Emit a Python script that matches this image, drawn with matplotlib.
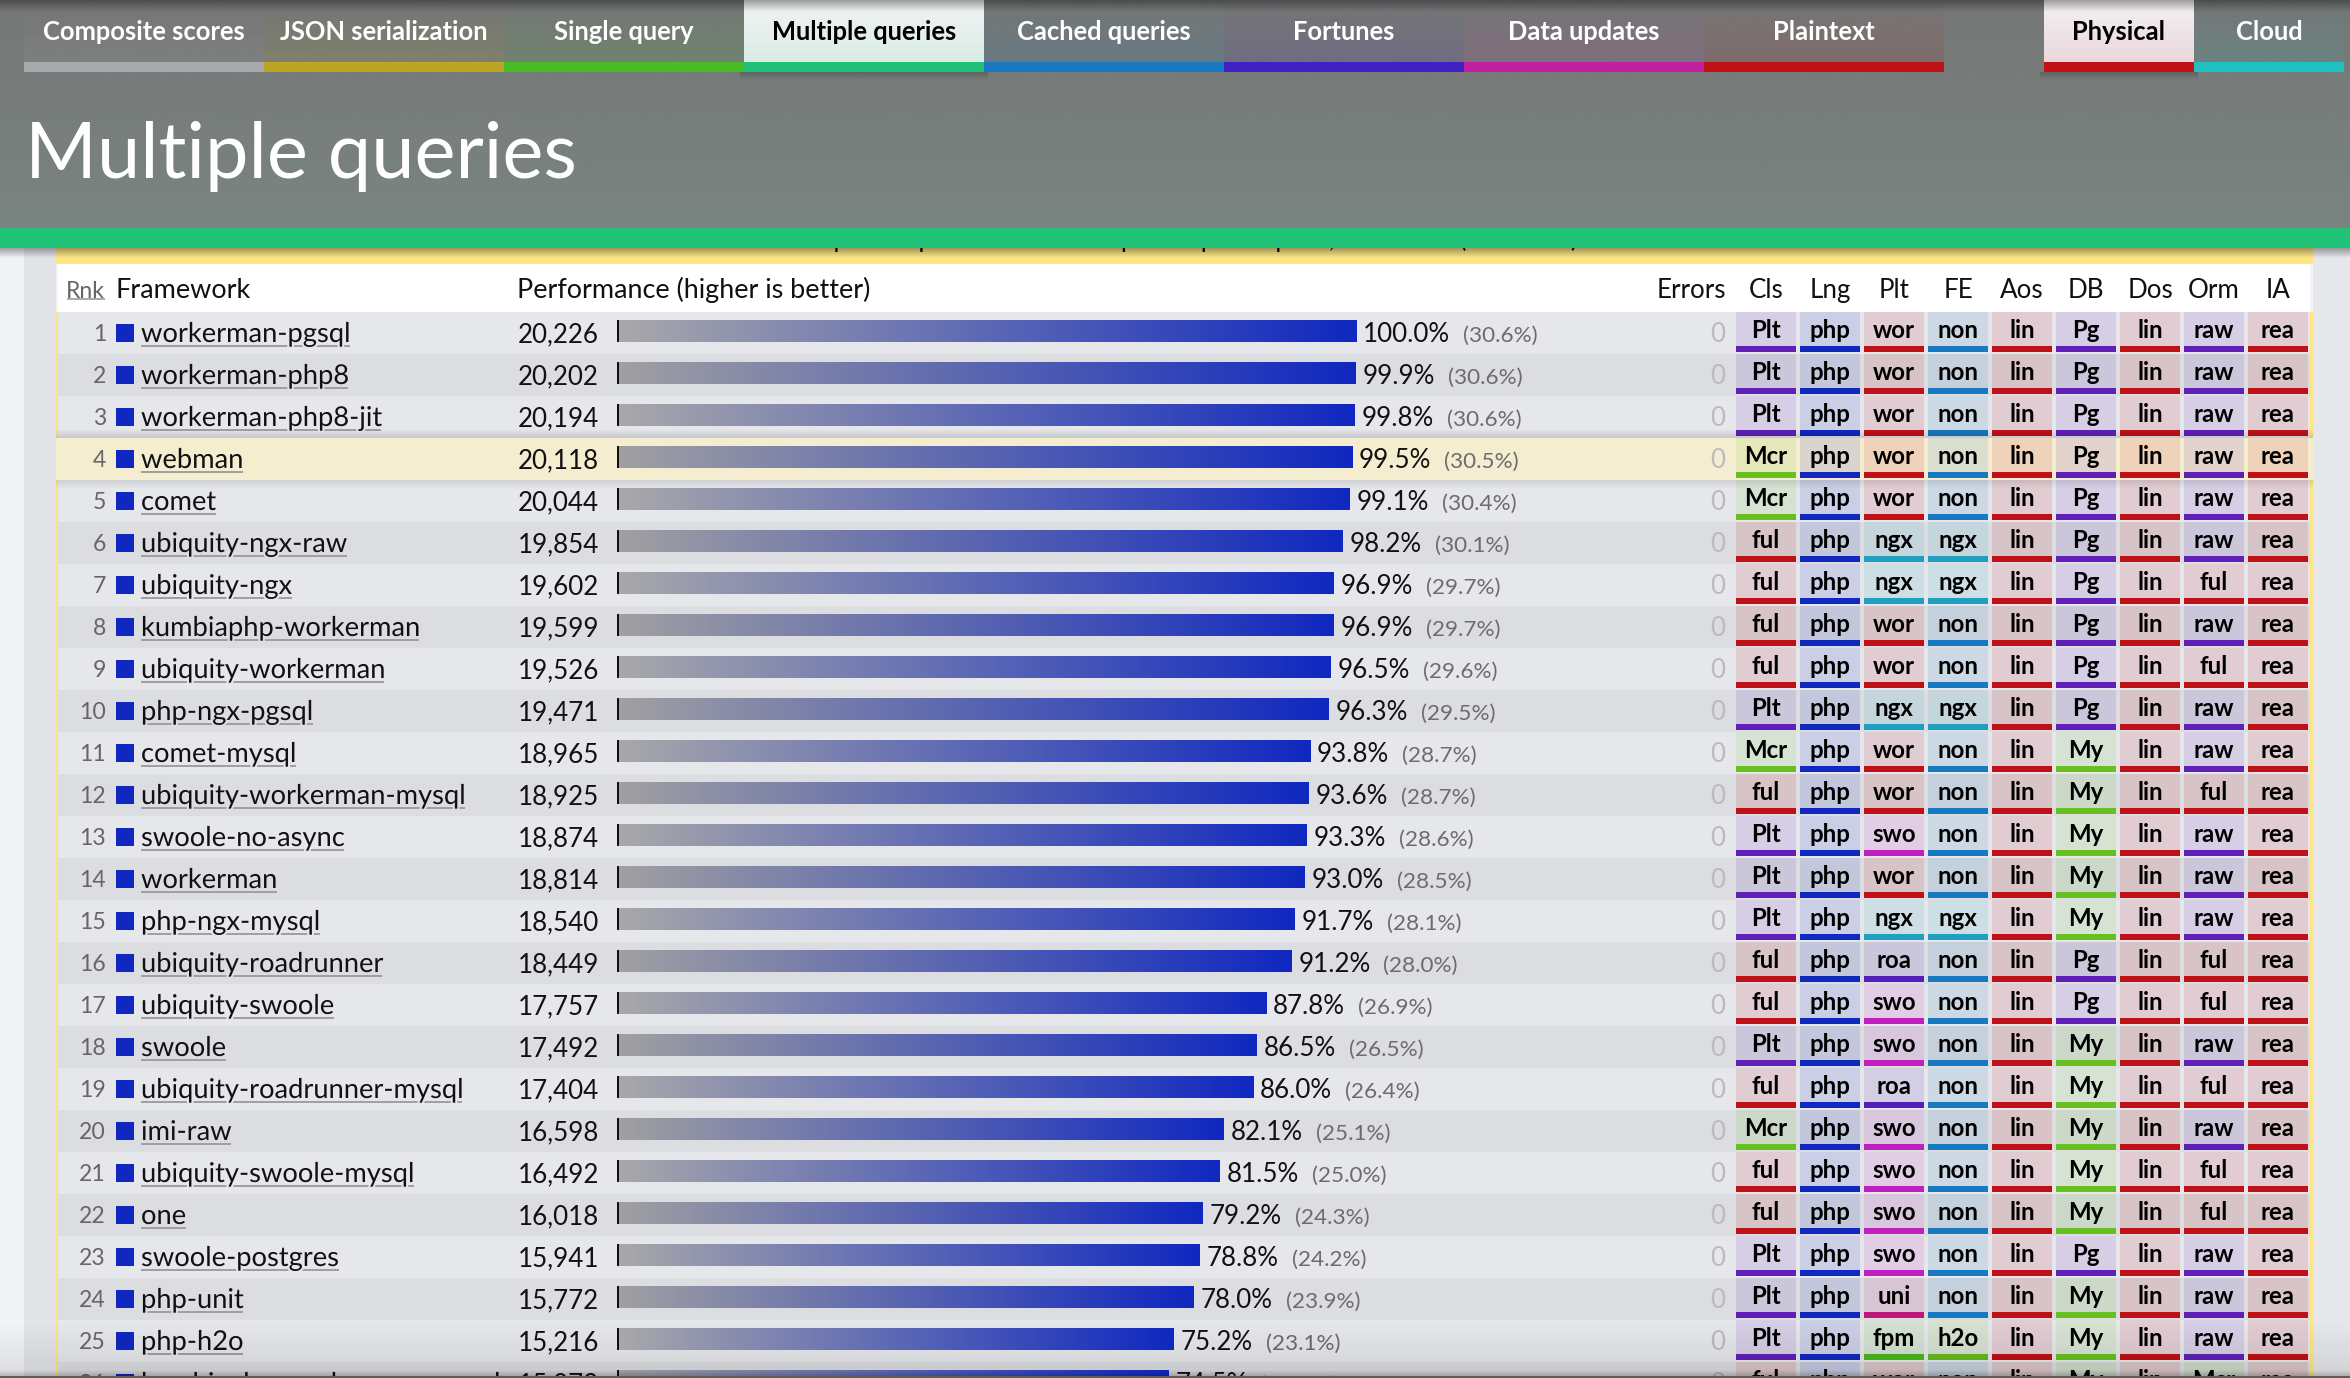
#!/usr/bin/env python3
from __future__ import annotations

import matplotlib

matplotlib.use("Agg")
import matplotlib.patheffects as pe
import matplotlib.pyplot as plt
import numpy as np
from matplotlib.colors import to_rgb
from matplotlib.patches import Rectangle

W, H = 2350, 1378
FONT = "Lato"

# nav tabs
TAB_LABELS = ["Composite scores", "JSON serialization", "Single query", "Multiple queries",
              "Cached queries", "Fortunes", "Data updates", "Plaintext"]
TAB_EDGES = [24, 264, 504, 744, 984, 1224, 1464, 1704, 1944]
TAB_COLORS = ["#a8a9ac", "#bca424", "#48bc28", "#20c078", "#1878c0", "#4020c0", "#c020a0", "#c01018"]
ACTIVE_TAB = "Multiple queries"
HW_LABELS = ["Physical", "Cloud"]
HW_EDGES = [2044, 2194, 2344]
HW_COLORS = ["#c01018", "#20c0c0"]
ACTIVE_HW = "Physical"
PAGE_TITLE = "Multiple queries"
SUBTITLE = "Responses per second at 20 queries per request, Dell R440 (476 tests)"

# table rows
FRAMEWORKS = ["workerman-pgsql", "workerman-php8", "workerman-php8-jit", "webman", "comet",
              "ubiquity-ngx-raw", "ubiquity-ngx", "kumbiaphp-workerman", "ubiquity-workerman",
              "php-ngx-pgsql", "comet-mysql", "ubiquity-workerman-mysql", "swoole-no-async",
              "workerman", "php-ngx-mysql", "ubiquity-roadrunner", "ubiquity-swoole", "swoole",
              "ubiquity-roadrunner-mysql", "imi-raw", "ubiquity-swoole-mysql", "one",
              "swoole-postgres", "php-unit", "php-h2o", "kumbiaphp-workerman-mysql"]
RPS = [20226, 20202, 20194, 20118, 20044, 19854, 19602, 19599, 19526, 19471, 18965, 18925, 18874,
       18814, 18540, 18449, 17757, 17492, 17404, 16598, 16492, 16018, 15941, 15772, 15216, 15073]
PCT_BEST = [100.0, 99.9, 99.8, 99.5, 99.1, 98.2, 96.9, 96.9, 96.5, 96.3, 93.8, 93.6, 93.3,
            93.0, 91.7, 91.2, 87.8, 86.5, 86.0, 82.1, 81.5, 79.2, 78.8, 78.0, 75.2, 74.5]
PCT_ALL = [30.6, 30.6, 30.6, 30.5, 30.4, 30.1, 29.7, 29.7, 29.6, 29.5, 28.7, 28.7, 28.6,
           28.5, 28.1, 28.0, 26.9, 26.5, 26.4, 25.1, 25.0, 24.3, 24.2, 23.9, 23.1, 22.8]
COLUMNS = ["Cls", "Lng", "Plt", "FE", "Aos", "DB", "Dos", "Orm", "IA"]
CLS = ["Plt", "Plt", "Plt", "Mcr", "Mcr", "ful", "ful", "ful", "ful", "Plt", "Mcr", "ful", "Plt",
       "Plt", "Plt", "ful", "ful", "Plt", "ful", "Mcr", "ful", "ful", "Plt", "Plt", "Plt", "ful"]
LNG = ["php"] * 26
PLT = ["wor", "wor", "wor", "wor", "wor", "ngx", "ngx", "wor", "wor", "ngx", "wor", "wor", "swo",
       "wor", "ngx", "roa", "swo", "swo", "roa", "swo", "swo", "swo", "swo", "uni", "fpm", "wor"]
FE = ["non", "non", "non", "non", "non", "ngx", "ngx", "non", "non", "ngx", "non", "non", "non",
      "non", "ngx", "non", "non", "non", "non", "non", "non", "non", "non", "non", "h2o", "non"]
AOS = ["lin"] * 26
DB = ["Pg", "Pg", "Pg", "Pg", "Pg", "Pg", "Pg", "Pg", "Pg", "Pg", "My", "My", "My",
      "My", "My", "Pg", "Pg", "My", "My", "My", "My", "My", "Pg", "My", "My", "My"]
DOS = ["lin"] * 26
ORM = ["raw", "raw", "raw", "raw", "raw", "raw", "ful", "raw", "ful", "raw", "raw", "ful", "raw",
       "raw", "raw", "ful", "ful", "raw", "ful", "raw", "ful", "ful", "raw", "raw", "raw", "Mcr"]
IA = ["rea"] * 26
HIGHLIGHT_RANK = 4

TAG_COLORS = {
    "Plt": "#6020b8", "Mcr": "#68c020", "ful": "#c01018", "php": "#1028c0", "wor": "#c01018",
    "ngx": "#20a0c0", "swo": "#c020c0", "roa": "#5020b8", "uni": "#c0187a", "fpm": "#48b820",
    "non": "#1878c0", "h2o": "#68b820", "lin": "#c01018", "Pg": "#6020b8", "My": "#68c020",
    "raw": "#6020b8", "rea": "#c01018",
}
BLUE = "#1028c0"
ROW_H = 42
TABLE_TOP, TABLE_BOTTOM = 312, 1376
BAR_LEFT, BAR_RIGHT = 619, 1356
CELL_LEFT, CELL_W, CELL_STEP = 1736, 60, 64


def fs(px: float) -> float:
    return px * 0.72


def vgrad(axis, x0, x1, y0, y1, color, a0, a1, zorder):
    rgba = np.zeros((64, 2, 4))
    rgba[..., :3] = to_rgb(color)
    rgba[..., 3] = np.linspace(a0, a1, 64)[:, None]
    return axis.imshow(rgba, extent=(x0, x1, y1, y0), origin="upper", aspect="auto",
                       interpolation="bilinear", zorder=zorder)


def ry(rank: int, off: float) -> float:
    return rank - 1 + off / ROW_H


fig = plt.figure(figsize=(W / 100, H / 100), dpi=100)
fig.patch.set_facecolor("#f2f3f7")
plt.rcParams["font.family"] = [FONT, "DejaVu Sans"]

ax_page = fig.add_axes([0, 0, 1, 1], zorder=0)
tb_pos = [0, (H - TABLE_BOTTOM) / H, 1, (TABLE_BOTTOM - TABLE_TOP) / H]
ax_tb = fig.add_axes(tb_pos, zorder=1)
ax_bar = fig.add_axes([BAR_LEFT / W, tb_pos[1], (BAR_RIGHT - BAR_LEFT) / W, tb_pos[3]], zorder=2)
ax_top = fig.add_axes([0, 0, 1, 1], zorder=3)
for axis in (ax_page, ax_tb, ax_bar, ax_top):
    axis.set_axis_off()
    axis.patch.set_alpha(0)
for axis in (ax_page, ax_top):
    axis.set_xlim(0, W)
    axis.set_ylim(H, 0)
ax_tb.set_xlim(0, W)
ax_tb.set_ylim((TABLE_BOTTOM - TABLE_TOP) / ROW_H, 0)
ax_bar.set_xlim(0, RPS[0])
ax_bar.set_ylim((TABLE_BOTTOM - TABLE_TOP) / ROW_H, 0)

# page behind the table
ax_page.add_patch(Rectangle((24, 248), 32, H - 248, color="#e3e4e8", lw=0))
ax_page.add_patch(Rectangle((2313, 248), 37, H - 248, color="#e6e7eb", lw=0))
ax_page.add_patch(Rectangle((56, 248), 2257, 16, color="#fde584", lw=0))
ax_page.add_patch(Rectangle((58, 264), 2252, 48, color="white", lw=0))
ax_page.text(1185, 247, SUBTITLE, fontsize=fs(25.5), ha="center", va="baseline", color="#111111")
ax_page.text(105, 298, "Rnk", fontsize=fs(23), ha="right", va="baseline", color="#666666")
ax_page.add_patch(Rectangle((67, 298), 38, 2, color="#aaaaaa", lw=0))
ax_page.text(115, 298, "Framework", fontsize=fs(27), va="baseline", color="#111111")
ax_page.text(517, 298, "Performance (higher is better)", fontsize=fs(27), va="baseline", color="#111111")
ax_page.text(1726, 298, "Errors", fontsize=fs(26), ha="right", va="baseline", color="#111111")
for i, col in enumerate(COLUMNS):
    ax_page.text(CELL_LEFT + CELL_W / 2 + i * CELL_STEP, 298, col, fontsize=fs(26), ha="center",
                 va="baseline", color="#111111")

# rows
renderer = fig.canvas.get_renderer()
n_rows = len(FRAMEWORKS)
tags = [CLS, LNG, PLT, FE, AOS, DB, DOS, ORM, IA]
ax_tb.add_patch(Rectangle((56, 0), 2, n_rows, color="#fde584", lw=0, zorder=1))
ax_tb.add_patch(Rectangle((2310, 0), 3, n_rows, color="#fde584", lw=0, zorder=1))
for idx, name in enumerate(FRAMEWORKS):
    rank = idx + 1
    if rank == HIGHLIGHT_RANK:
        row_bg = "#f5edd0"
        ax_tb.add_patch(Rectangle((56, ry(rank, 0)), 2257, 1, color=row_bg, lw=0, zorder=3))
    else:
        row_bg = "#e6e7eb" if rank % 2 else "#dcdde0"
        ax_tb.add_patch(Rectangle((58, ry(rank, 0)), 2252, 1, color=row_bg, lw=0, zorder=1))
    ax_tb.text(106, ry(rank, 29), str(rank), fontsize=fs(23), ha="right", va="baseline",
               color="#666666", clip_on=True, zorder=5)
    ax_tb.add_patch(Rectangle((116, ry(rank, 12)), 18, 18 / ROW_H, color=BLUE, lw=0, zorder=5))
    label = ax_tb.text(141, ry(rank, 30), name, fontsize=fs(27.3), va="baseline", color="#111111",
                       clip_on=True, zorder=6,
                       path_effects=[pe.withStroke(linewidth=3, foreground=row_bg)])
    extent = label.get_window_extent(renderer)
    ax_tb.add_patch(Rectangle((extent.x0, ry(rank, 33)), extent.width, 2 / ROW_H, color="#a0a0a0",
                              lw=0, zorder=5))
    ax_tb.text(599, ry(rank, 30), f"{RPS[idx]:,}", fontsize=fs(26), ha="right", va="baseline",
               color="#111111", clip_on=True, zorder=5)
    ax_tb.add_patch(Rectangle((617, ry(rank, 8)), 2, 22 / ROW_H, color="#111111", lw=0, zorder=5))
    ax_tb.text(1725, ry(rank, 30), "0", fontsize=fs(26), ha="right", va="baseline", color="#bbbbbb",
               clip_on=True, zorder=5)
    for j, col in enumerate(tags):
        tag = col[idx]
        x = CELL_LEFT + j * CELL_STEP
        ax_tb.add_patch(Rectangle((x, ry(rank, 0)), CELL_W, 34 / ROW_H, color=TAG_COLORS[tag],
                                  alpha=0.12, lw=0, zorder=4))
        ax_tb.add_patch(Rectangle((x, ry(rank, 34)), CELL_W, 6 / ROW_H, color=TAG_COLORS[tag], lw=0,
                                  zorder=4))
        ax_tb.text(x + CELL_W / 2, ry(rank, 26), tag, fontsize=fs(24), fontweight="bold", ha="center",
                   va="baseline", color="black", clip_on=True, zorder=5)

    # bar and the two percentages after it
    start = np.array(to_rgb("#a8a8aa" if rank % 2 else "#a0a0a2"))
    end = np.array(to_rgb(BLUE))
    bar = ax_bar.barh(rank - 1 + 19 / ROW_H, RPS[idx], height=22 / ROW_H, color=BLUE, lw=0)[0]
    ramp = np.linspace(start, end, 128)[None, :, :]
    im = ax_bar.imshow(ramp, extent=(0, RPS[idx], ry(rank, 30), ry(rank, 8)), origin="upper",
                       aspect="auto", interpolation="bilinear", zorder=2)
    im.set_clip_path(bar)
    pct = ax_bar.annotate(f"{PCT_BEST[idx]:.1f}%", xy=(RPS[idx], ry(rank, 30)), xytext=(7, 0),
                          textcoords="offset pixels", fontsize=fs(26), va="baseline", color="#111111",
                          annotation_clip=False, clip_on=True)
    pct.set_clip_box(ax_tb.bbox)
    pct_box = pct.get_window_extent(renderer)
    ax_tb.text(pct_box.x1 + 13, ry(rank, 30), f"({PCT_ALL[idx]:.1f}%)", fontsize=fs(22.5),
               va="baseline", color="#6c6c6c", clip_on=True, zorder=5)

# shadows around the highlighted row and at the bottom edge
vgrad(ax_tb, 56, 2313, ry(HIGHLIGHT_RANK, -9), ry(HIGHLIGHT_RANK, 0), "black", 0, 0.14, 6)
vgrad(ax_tb, 56, 2313, ry(HIGHLIGHT_RANK, 42), ry(HIGHLIGHT_RANK, 51), "black", 0.1, 0, 6)
vgrad(ax_tb, 0, W, ry(25, 0), ry(26, 14), "black", 0, 0.09, 7)

# header over everything
ax_top.add_patch(Rectangle((0, 0), W, 228, color="#7a8581", lw=0, zorder=1))
vgrad(ax_top, 0, W, 0, 228, "#757575", 0.9, 0, 1.5)
for labels, edges, colors, active in ((TAB_LABELS, TAB_EDGES, TAB_COLORS, ACTIVE_TAB),
                                      (HW_LABELS, HW_EDGES, HW_COLORS, ACTIVE_HW)):
    for i, text in enumerate(labels):
        x0, x1 = edges[i], edges[i + 1]
        if text == active:
            vgrad(ax_top, x0 - 4, x1 + 4, 72, 80, "black", 0.2, 0, 2)
            ax_top.add_patch(Rectangle((x0, 0), x1 - x0, 62, color="#f2f2f4", lw=0, zorder=3))
            vgrad(ax_top, x0, x1, 0, 62, colors[i], 0, 0.12, 3.5)
            text_color = "black"
        else:
            vgrad(ax_top, x0, x1, 0, 62, colors[i], 0, 0.14, 3)
            text_color = "white"
        ax_top.add_patch(Rectangle((x0, 62), x1 - x0, 10, color=colors[i], lw=0, zorder=8))
        ax_top.text((x0 + x1) / 2, 40, text, fontsize=fs(25.5), fontweight="bold", ha="center",
                    va="baseline", color=text_color, zorder=8)
vgrad(ax_top, 0, W, 0, 12, "black", 0.35, 0, 6)
ax_top.text(25, 178, PAGE_TITLE, fontsize=fs(77.5), va="baseline", color="white", zorder=5)
ax_top.add_patch(Rectangle((0, 228), W, 20, color="#20c278", lw=0, zorder=5))
vgrad(ax_top, 0, W, 248, 258, "black", 0.35, 0, 5)
vgrad(ax_top, 0, W, 1370, 1376, "black", 0, 0.18, 5)
ax_top.add_patch(Rectangle((0, 1376), W, 2, color="#5e5a58", lw=0, zorder=5))

fig.savefig("out.png", dpi=100)
